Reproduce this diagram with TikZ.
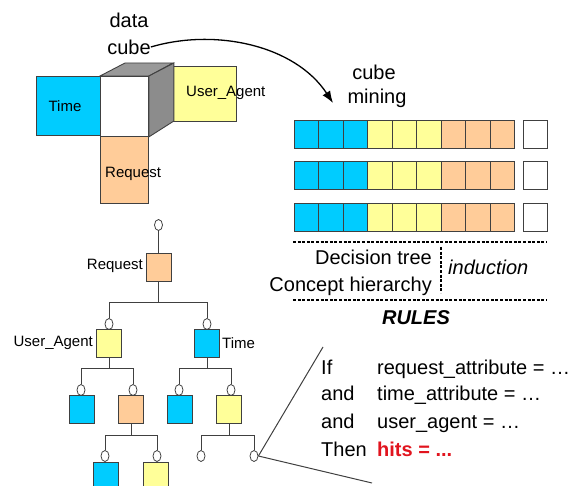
\documentclass[tikz,border=0pt]{standalone}
\usepackage{fontspec}
\setmainfont{Liberation Sans}
\usetikzlibrary{positioning,arrows.meta,calc,shapes.geometric}
\definecolor{cyanbox}{RGB}{0,204,255}
\definecolor{yelbox}{RGB}{255,255,153}
\definecolor{peachbox}{RGB}{255,204,153}
\definecolor{hitred}{RGB}{225,20,30}
\begin{document}
\begin{tikzpicture}[x=1pt, y=-1pt, >={Latex[length=12pt,width=9pt]},
  cell/.style={draw=black!75, line width=0.9pt, minimum width=24.5pt,
               minimum height=28pt, inner sep=0pt},
  tbox/.style={cell, minimum width=25pt},
  face/.style={draw=black!75, line width=0.9pt, inner sep=0pt, anchor=north west},
  knot/.style={ellipse, draw=black!75, fill=white, line width=0.8pt,
               minimum width=8pt, minimum height=11pt, inner sep=0pt},
  big/.style={font=\fontsize{20}{24}\selectfont, inner sep=0pt},
  small/.style={font=\fontsize{15}{18}\selectfont, inner sep=0pt},
  edge/.style={draw=black!75, line width=1pt},
  sep/.style={line width=1.1pt, dash pattern=on 3pt off 1.6pt}]
\useasboundingbox (0,0) rectangle (575,486);
% (a) data cube
\node[big] (datatxt) at (129,20) {data};
\node[big] (cubetxt) at (129,47) {cube};
\node[face, fill=yelbox, minimum width=63pt, minimum height=55pt] (uabox) at (173,66) {};
\node[face, fill=cyanbox, minimum width=64pt, minimum height=59pt] (timebox) at (36,76) {};
\node[face, fill=white, minimum width=48pt, minimum height=60pt] (front) at (100,76) {};
\node[face, fill=peachbox, minimum width=48pt, minimum height=67pt] (reqbox) at (100,136) {};
\filldraw[fill=black!40, draw=black!75, line width=0.9pt]
  (front.north west) -- ++(25,-13) -- ++(48,0) -- (front.north east) -- cycle;
\filldraw[fill=black!45, draw=black!75, line width=0.9pt]
  (front.north east) -- ++(25,-13) -- ++(0,58) -- (front.south east) -- cycle;
\node[small] (timetxt) at (65,106) {Time};
\node[small, anchor=west] (uatxt) at (186,93) {User\_Agent};
\node[small, anchor=west] (reqtxt) at (105,174) {Request};
% (b) cube mining
\node[big] (cubetxt2) at (374,72) {cube};
\node[big] (miningtxt) at (377,98) {mining};
\coordinate (tip) at (333,103);
\draw[->, line width=1.3pt] (cubetxt.east) .. controls (215,28) and (295,45) .. (tip);
\foreach \r/\yy in {1/134,2/175.5,3/217} {
  \foreach \c/\col in {1/cyanbox,2/cyanbox,3/cyanbox,4/yelbox,5/yelbox,6/yelbox,7/peachbox,8/peachbox,9/peachbox}
    \node[cell, fill=\col] (r\r c\c) at ({294+24.5*(\c-0.5)},\yy) {};
  \node[cell, fill=white] (r\r w) at (535.5,\yy) {};
}
\draw[sep] (293,242) -- (547,242);
\draw[sep] (293,300) -- (547,300);
\draw[sep] (441,247) -- (441,293);
\node[big, anchor=base east] (dtree) at (432,264) {Decision tree};
\node[big, anchor=base east] (chier) at (432,291) {Concept hierarchy};
\node[big, anchor=base west, font=\fontsize{20}{24}\selectfont\itshape] (induct) at (448,274) {induction};
\node[big, anchor=base, font=\fontsize{20}{24}\selectfont\bfseries\itshape] (rules) at (416,324) {RULES};
% (c) decision tree
\node[knot] (oroot) at (158.5,225) {};
\node[tbox, fill=peachbox] (req) at (158.5,267) {};
\node[knot] (oua) at (109,324) {};
\node[tbox, fill=yelbox] (ua) at (109,343) {};
\node[knot] (otm) at (207,324) {};
\node[tbox, fill=cyanbox] (tm) at (207,343) {};
\node[knot] (oc1) at (81,390) {};
\node[tbox, fill=cyanbox] (c1) at (82,409) {};
\node[knot] (op1) at (133,390) {};
\node[tbox, fill=peachbox] (p1) at (131,409) {};
\node[knot] (oc2) at (179,390) {};
\node[tbox, fill=cyanbox] (c2) at (180,409) {};
\node[knot] (oy1) at (231,390) {};
\node[tbox, fill=yelbox] (y1) at (229,409) {};
\node[knot] (oc3) at (105,456) {};
\node[tbox, fill=cyanbox] (c3) at (106,476) {};
\node[knot] (oy2) at (157,456) {};
\node[tbox, fill=yelbox] (y2) at (156,476) {};
\node[knot] (l1) at (201,456) {};
\node[knot] (l2) at (254,456) {};
\node[small, anchor=east] (reqlbl) at (143,266) {Request};
\node[small, anchor=east] (ualbl) at (93,343) {User\_Agent};
\node[small, anchor=west] (tmlbl) at (222,343) {Time};
\draw[edge] (oroot) -- (req);
\draw[edge] (req.south) -- ++(0,21) -| (oua.north);
\draw[edge] (req.south) -- ++(0,21) -| (otm.north);
\draw[edge] (ua.south) -- ++(0,11) -| (oc1.north);
\draw[edge] (ua.south) -- ++(0,11) -| (op1.north);
\draw[edge] (tm.south) -- ++(0,11) -| (oc2.north);
\draw[edge] (tm.south) -- ++(0,11) -| (oy1.north);
\draw[edge] (p1.south) -- ++(0,12) -| (oc3.north);
\draw[edge] (p1.south) -- ++(0,12) -| (oy2.north);
\draw[edge] (y1.south) -- ++(0,12) -| (l1.north);
\draw[edge] (y1.south) -- ++(0,12) -| (l2.north);
% (d) rule
\coordinate (wtop) at (323,347);
\coordinate (wbot) at (372,483);
\draw[edge] (l2.east) -- (wtop);
\draw[edge] (l2.east) -- (wbot);
\node[big, anchor=base west] (kif) at (321,374) {If};
\node[big, anchor=base west] (kand1) at (321,400) {and};
\node[big, anchor=base west] (kand2) at (321,428) {and};
\node[big, anchor=base west] (kthen) at (321,456) {Then};
\node[big, anchor=base west] (cond1) at (377,374) {request\_attribute = …};
\node[big, anchor=base west] (cond2) at (377,400) {time\_attribute = …};
\node[big, anchor=base west] (cond3) at (377,428) {user\_agent = …};
\node[big, anchor=base west, text=hitred, font=\fontsize{20}{24}\selectfont\bfseries] (hits) at (377,456) {hits = ...};
\end{tikzpicture}
\end{document}
